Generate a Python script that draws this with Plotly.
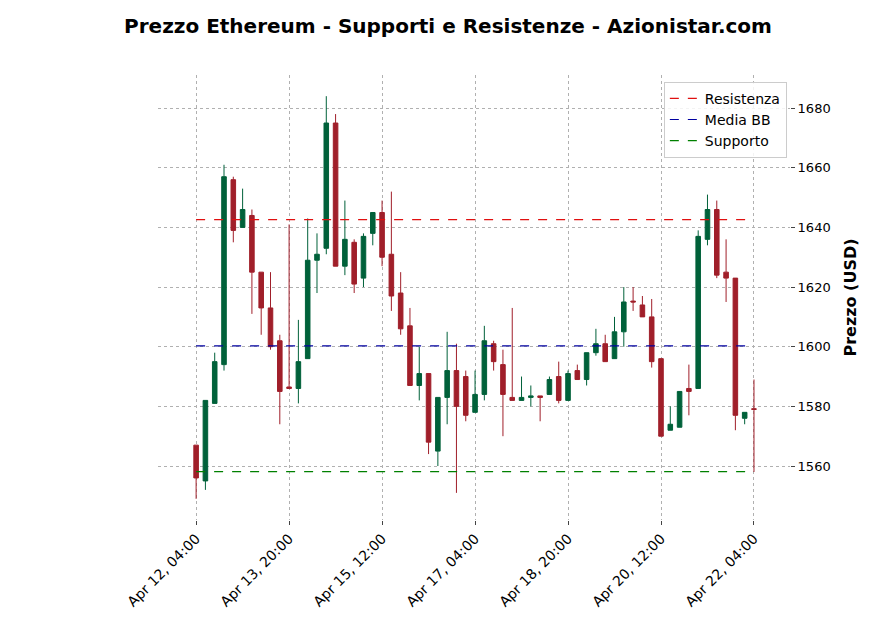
import plotly.graph_objects as go
import pandas as pd

opens  = [1567,1555,1581,1594,1656,1640,1644,1625,1613,1602,1586.5,1586,1596,1629,1633,1675,1627,1635,1623,1638,
          1645,1631,1618,1607,1587,1591,1565,1583,1592,1590,1578,1584,1601,1594,1583,1582,1583,1583.5,1584,1590,
          1582,1592,1589,1598,1601,1596,1605,1615.3,1614,1610,1596,1572,1573,1586,1586,1636,1646,1625,1623,1576,1579.2]
closes = [1556,1582,1595,1657,1639,1646,1625,1613,1600,1585,1586,1595,1629,1631,1675,1627,1636,1621,1637,1645,
          1630,1617,1606,1587,1591,1568,1583,1592,1580,1577,1584,1602,1595,1584,1582,1583,1583.5,1583,1589,1582,
          1591,1589,1598,1601,1595,1605,1615,1615,1610,1595,1570,1574,1585,1585,1637,1646,1624,1623,1577,1578,1579]
highs  = [1567,1582,1598,1661,1657,1653,1646,1625,1625,1604,1641,1609,1643,1638,1684,1678,1649,1636,1638,1645,
          1649,1652,1625,1613,1600,1591,1583,1605,1601,1592,1592,1607,1602,1599,1613,1590,1587,1583.5,1590,1595,
          1592,1594,1598,1606,1604,1610,1620,1620,1617,1616,1596,1580,1585,1594,1639,1651,1649,1636,1623,1578,1589]
lows   = [1549,1552,1581,1592,1635,1640,1611,1604,1599,1574,1586,1581,1596,1618,1631,1627,1624,1618,1620,1634,
          1627,1612,1604,1587,1582,1564,1560,1574,1551,1575,1578,1582,1592,1570,1582,1582,1580,1575,1584,1581,
          1582,1589,1587,1597,1595,1596,1600,1612,1610,1593,1570,1572,1573,1577,1586,1634,1623,1615,1572,1574,1558]
resistenza = 1642.6
media_bb = 1600.3
supporto = 1558.1

times = pd.date_range("2023-04-12 04:00", periods=len(opens), freq="4h")

fig = go.Figure()
fig.add_trace(go.Candlestick(x=times, open=opens, high=highs, low=lows, close=closes,
    increasing=dict(line=dict(color="#00613a", width=1), fillcolor="#00613a"),
    decreasing=dict(line=dict(color="#a01f2a", width=1), fillcolor="#a01f2a"),
    whiskerwidth=0, showlegend=False))
for val, name, col in [(resistenza, "Resistenza", "#e01010"), (media_bb, "Media BB", "#0000a0"), (supporto, "Supporto", "#008000")]:
    fig.add_trace(go.Scatter(x=[times[0], times[-1]], y=[val, val], mode="lines", name=name,
                             line=dict(color=col, width=1.2, dash="dash")))

fig.update_layout(
    width=880, height=632, paper_bgcolor="white", plot_bgcolor="white",
    margin=dict(l=150, r=98, t=67, b=120),
    title=dict(text="<b>Prezzo Ethereum - Supporti e Resistenze - Azionistar.com</b>", x=0.5, xanchor="center",
               y=0.982, yanchor="top", font=dict(family="DejaVu Sans", size=20, color="black")),
    font=dict(family="DejaVu Sans", size=13, color="black"),
    legend=dict(x=0.995, y=0.985, xanchor="right", yanchor="top", bgcolor="rgba(255,255,255,0.85)",
                bordercolor="#cccccc", borderwidth=1, font=dict(size=14)),
)
fig.update_xaxes(rangeslider_visible=False, type="date",
    range=[times[0] - pd.Timedelta(hours=16.4), times[-1] + pd.Timedelta(hours=15.5)],
    tick0=times[0], dtick=40*3600*1000, tickformat="%b %d, %H:%M", tickangle=-45,
    showgrid=True, gridcolor="#b0b0b0", griddash="dot", gridwidth=0.6, ticks="outside", ticklen=4,
    showline=False, zeroline=False, tickfont=dict(size=14))
fig.update_yaxes(side="right", range=[1541.9, 1691.1], dtick=20, showgrid=True, gridcolor="#b0b0b0",
    griddash="dot", gridwidth=0.6, ticks="outside", ticklen=4, zeroline=False,
    title=dict(text="<b>Prezzo (USD)</b>", font=dict(size=16)))
fig.write_html("out.html")
